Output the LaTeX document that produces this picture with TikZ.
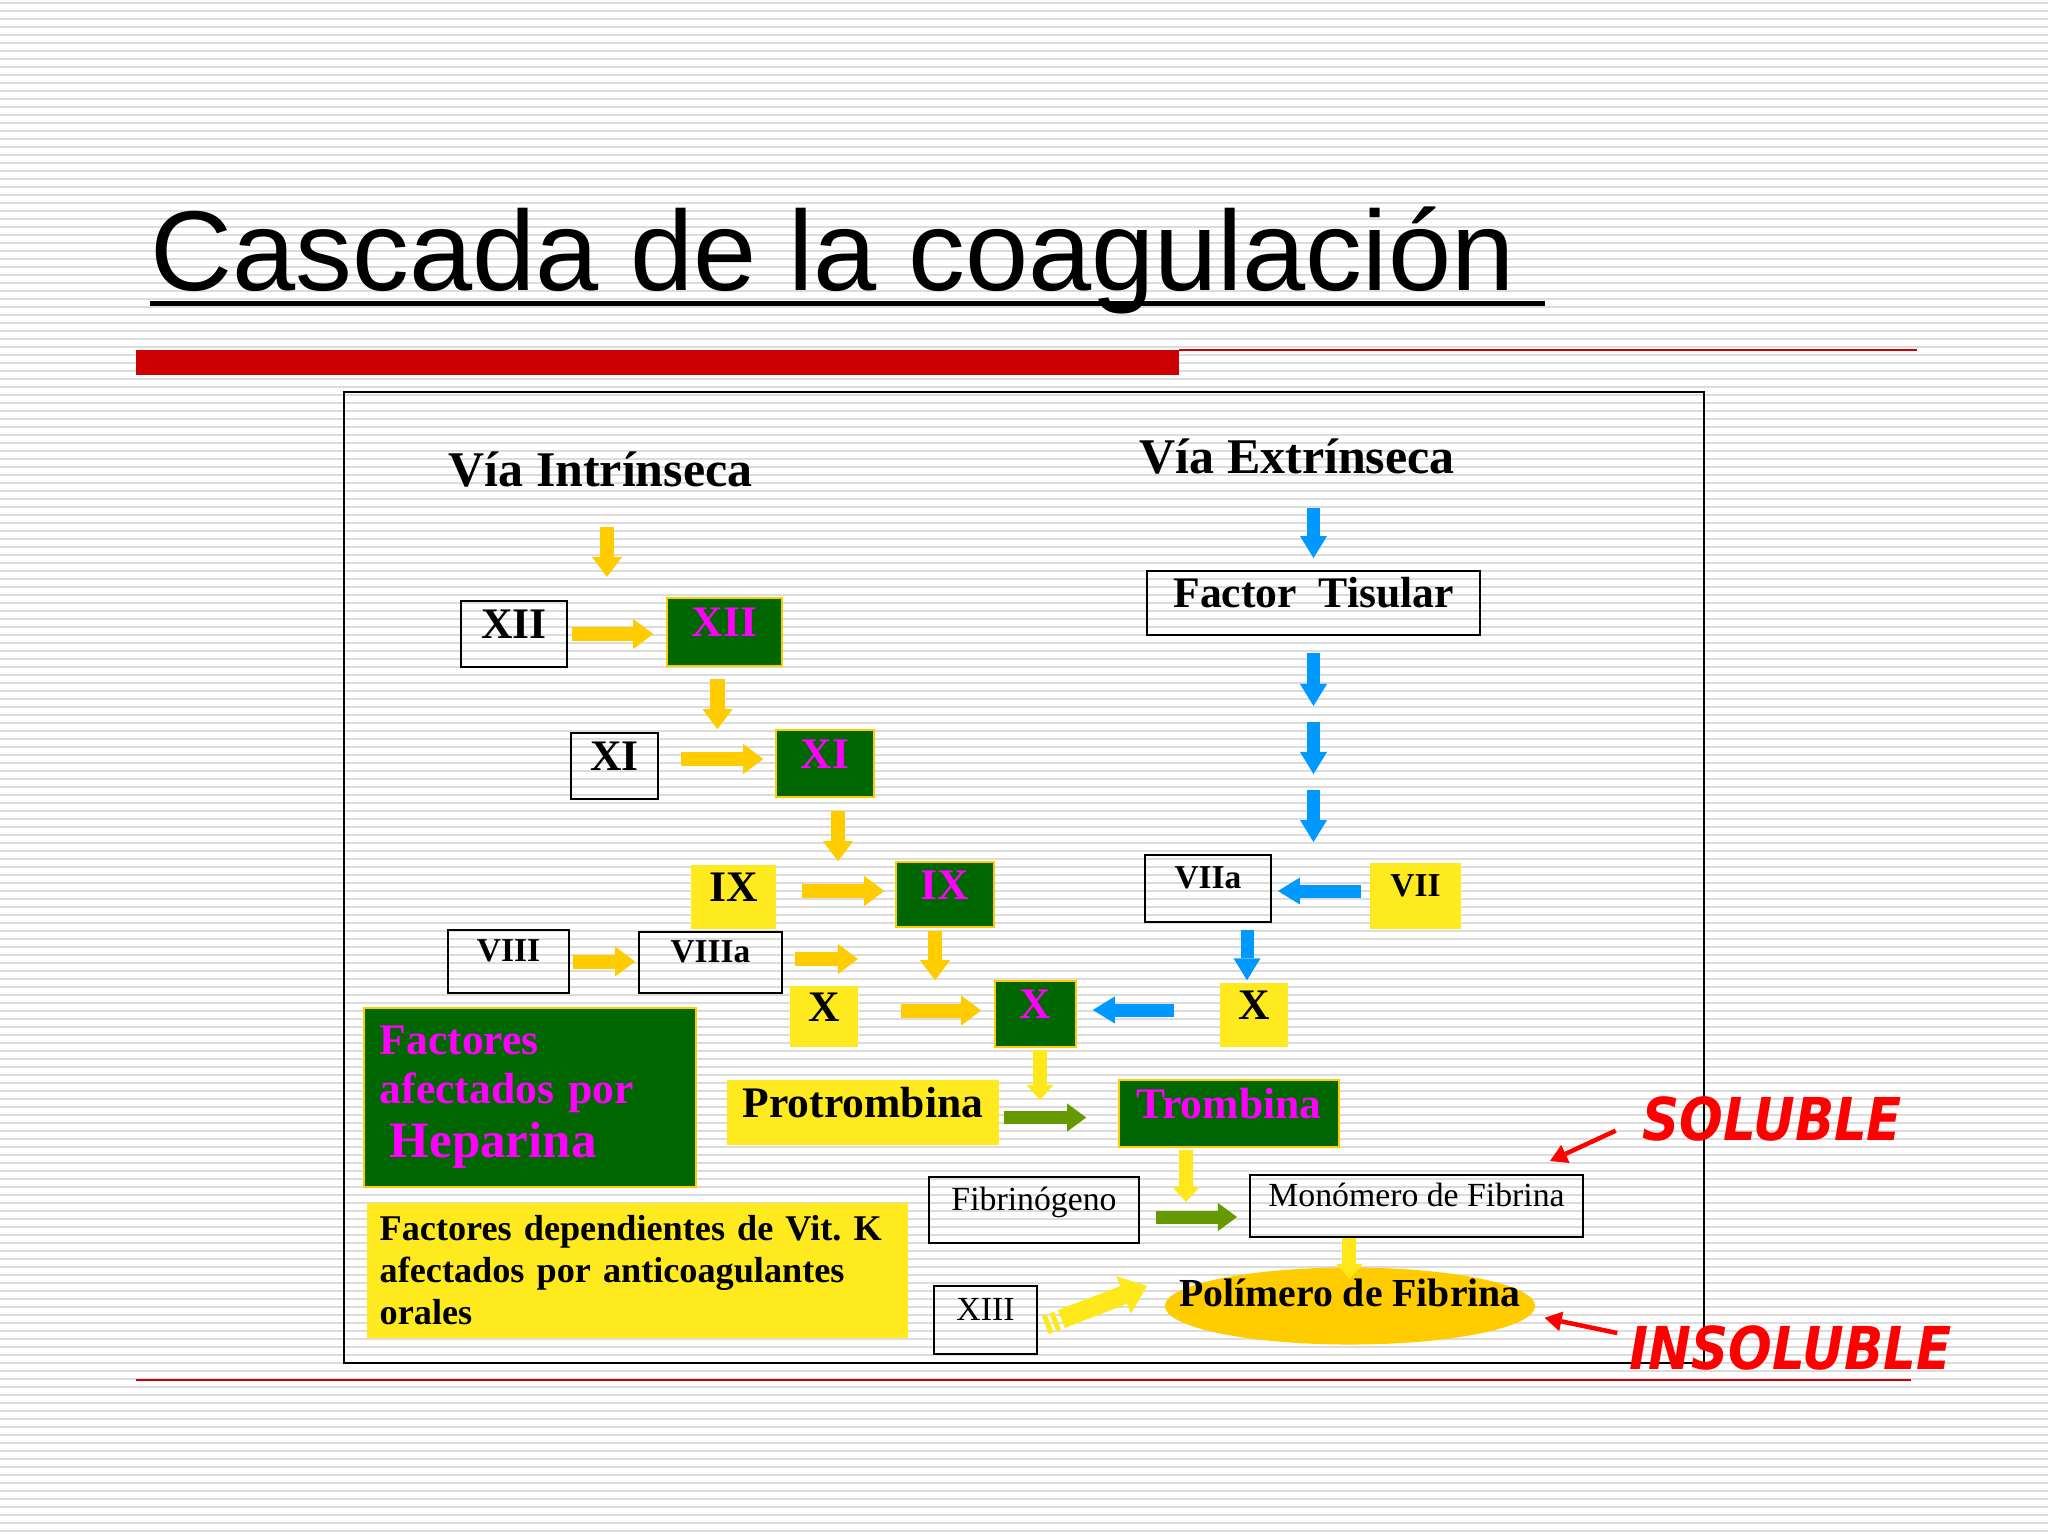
\documentclass[tikz,border=0pt]{standalone}
\usepackage{fontspec}
\setmainfont{Liberation Serif}
\newfontfamily\titlefont{Liberation Sans}
\newfontfamily\tagfont{DejaVu Sans}
\usepackage{tikz}
\usetikzlibrary{arrows.meta,shapes.geometric,calc}

\definecolor{darkgreen}{RGB}{0,102,0}
\definecolor{factormagenta}{RGB}{255,0,255}
\definecolor{boxyellow}{RGB}{255,234,32}
\definecolor{arrowyellow}{RGB}{255,204,0}
\definecolor{lightyellow}{RGB}{255,232,26}
\definecolor{arrowblue}{RGB}{0,153,255}
\definecolor{arrowgreen}{RGB}{102,153,0}
\definecolor{barred}{RGB}{204,0,0}
\definecolor{tagred}{RGB}{255,0,0}
\definecolor{stripegray}{RGB}{220,220,220}

\begin{document}
\begin{tikzpicture}[
    x=0.01cm, y=-0.01cm,
    stripe/.style={draw=stripegray, line width=0.025cm},
    plain/.style={
        rectangle,
        draw=black,
        line width=0.018cm,
        inner sep=0pt
    },
    yellowbox/.style={
        rectangle,
        fill=boxyellow,
        inner sep=0pt
    },
    greenbox/.style={
        rectangle,
        fill=darkgreen,
        draw=arrowyellow,
        line width=0.015cm,
        text=factormagenta,
        inner sep=0pt
    },
    head/.style={inner sep=0pt, font=\bfseries\fontsize{14.2pt}{17pt}\selectfont},
    big/.style={font=\bfseries\fontsize{12.4pt}{15pt}\selectfont, text height=0.30cm, text depth=0.21cm},
    small/.style={font=\bfseries\fontsize{9.5pt}{11pt}\selectfont, text height=0.24cm, text depth=0.24cm},
    thin/.style={font=\fontsize{9.6pt}{11pt}\selectfont, text height=0.24cm, text depth=0.24cm},
    tag/.style={inner sep=0pt, text=tagred, xscale=0.87,
        font=\tagfont\bfseries\itshape\fontsize{16.8pt}{20pt}\selectfont},
    yarr/.style={draw=arrowyellow, line width=0.14cm,
        -{Triangle[width=0.30cm,length=0.20cm,line width=0pt]}},
    larr/.style={draw=lightyellow, line width=0.14cm,
        -{Triangle[width=0.27cm,length=0.15cm,line width=0pt]}},
    barr/.style={draw=arrowblue, line width=0.13cm,
        -{Triangle[width=0.27cm,length=0.22cm,line width=0pt]}},
    garr/.style={draw=arrowgreen, line width=0.13cm,
        -{Triangle[width=0.28cm,length=0.19cm,line width=0pt]}},
    xarr/.style={draw=lightyellow, line width=0.19cm,
        dash pattern=on 0.05cm off 0.03cm on 0.05cm off 0.04cm on 3cm,
        -{Triangle[width=0.40cm,length=0.25cm,line width=0pt]}},
    rarr/.style={draw=tagred, line width=0.045cm,
        -{Triangle[width=0.20cm,length=0.17cm,line width=0pt]}}
  ]
  \useasboundingbox (0,0) rectangle (2048,1536);
  \fill[white] (0,0) rectangle (2048,1536);
  \foreach \y in {3,11,...,1536}
    \draw[stripe] (0,\y) -- (2048,\y);

  % title and bars
  \node[anchor=base west, inner sep=0pt,
        font=\titlefont\fontsize{32.3pt}{36pt}\selectfont] (title) at (150,290)
        {Cascada de la coagulación};
  \draw[line width=0.05cm] ([yshift=-0.13cm]title.base west) -- ++(1395,0);
  \fill[barred] (136,350) rectangle (1179,375);
  \draw[barred, line width=0.02cm] (1179,350) -- (1917,350);
  \draw[barred, line width=0.015cm] (136,1380) -- (1911,1380);
  \draw[line width=0.02cm] (343.5,392) rectangle (1704,1363);

  % We start by placing the blocks
  \node[head, anchor=base west] (viaint) at (448,486) {Vía Intrínseca};
  \node[head, anchor=base west] (viaext) at (1139,473) {Vía Extrínseca};

  \node[plain, big, minimum width=1.06cm, minimum height=0.66cm] (xiiw) at (514,634) {XII};
  \node[greenbox, big, minimum width=1.15cm, minimum height=0.68cm] (xiig) at (724.5,632) {XII};
  \node[plain, big, minimum width=0.87cm, minimum height=0.66cm] (xiw) at (614.5,766) {XI};
  \node[greenbox, big, minimum width=0.98cm, minimum height=0.67cm] (xig) at (825,763.5) {XI};
  \node[yellowbox, big, minimum width=0.85cm, minimum height=0.64cm] (ixy) at (733.5,897) {IX};
  \node[greenbox, big, minimum width=0.98cm, minimum height=0.65cm] (ixg) at (945,894.5) {IX};
  \node[plain, small, minimum width=1.21cm, minimum height=0.63cm] (viiiw) at (508.5,961.5) {VIII};
  \node[plain, small, minimum width=1.43cm, minimum height=0.61cm] (viiiaw) at (710.5,962.5) {VIIIa};
  \node[yellowbox, big, minimum width=0.68cm, minimum height=0.61cm] (xy) at (824,1016.5) {X};
  \node[greenbox, big, minimum width=0.81cm, minimum height=0.66cm] (xg) at (1035.5,1014) {X};

  \node[plain, big, minimum width=3.33cm, minimum height=0.64cm] (ft) at (1313.5,603) {Factor\ \ Tisular};
  \node[plain, small, minimum width=1.26cm, minimum height=0.67cm] (viia) at (1208,888.5) {VIIa};
  \node[yellowbox, small, minimum width=0.91cm, minimum height=0.66cm] (vii) at (1415.5,896) {VII};
  \node[yellowbox, big, minimum width=0.68cm, minimum height=0.64cm] (x2y) at (1254,1015) {X};

  \node[greenbox, anchor=north west, minimum height=1.79cm, text width=3.0cm,
        inner xsep=0.16cm, align=left, font=\bfseries\fontsize{12.4pt}{13.9pt}\selectfont] (hep) at (363,1007)
        {Factores\\afectados por\\[0.05cm]{\fontsize{14.5pt}{16pt}\selectfont\hspace*{0.1cm}Heparina}};
  \node[yellowbox, anchor=north west, minimum height=1.35cm, text width=5.15cm,
        inner xsep=0.13cm, align=left, font=\bfseries\fontsize{10.3pt}{11.95pt}\selectfont] (vitk) at (366,1202)
        {Factores dependientes de Vit.~K\\afectados por anticoagulantes\\orales};

  \node[yellowbox, big, minimum width=2.72cm, minimum height=0.65cm] (pro) at (863,1112.5) {Protrombina};
  \node[greenbox, big, minimum width=2.20cm, minimum height=0.67cm] (tro) at (1229,1113.5) {Trombina};
  \node[plain, thin, minimum width=2.10cm, minimum height=0.66cm] (fib) at (1034,1210) {Fibrinógeno};
  \node[plain, thin, minimum width=3.33cm, minimum height=0.62cm] (mon) at (1416.5,1206) {Monómero de Fibrina};
  \node[ellipse, fill=arrowyellow, minimum width=3.70cm, minimum height=0.77cm,
        inner xsep=-0.9cm, inner ysep=0pt, text height=0.24cm, text depth=0.24cm,
        font=\bfseries\fontsize{11.3pt}{13pt}\selectfont] (pol) at (1350,1306) {Polímero de Fibrina};
  \node[plain, thin, minimum width=1.03cm, minimum height=0.68cm] (xiii) at (985.5,1320) {XIII};

  \node[tag, anchor=base west] (sol) at (1642,1140) {SOLUBLE};
  \node[tag, anchor=base west] (insol) at (1629,1369) {INSOLUBLE};

  % free ends
  \coordinate (xiigap) at (607,577);
  \coordinate (viiiaend) at (858,959);
  \coordinate (xgend) at (1040,1100);
  \coordinate (troend) at (1186,1202);
  \coordinate (xiiiend) at (1147,1286);
  \coordinate (solend) at (1550,1161);

  % intrinsic path
  \draw[yarr, shorten <=0.40cm] (viaint.south -| xiigap) -- (xiigap);
  \draw[yarr, shorten <=0.04cm, shorten >=0.13cm] (xiiw.east) -- (xiiw.east -| xiig.west);
  \draw[yarr, shorten <=0.12cm] ([xshift=-0.07cm]xiig.south) -- ([xshift=-0.07cm]xiig.south |- xig.north);
  \draw[yarr, shorten <=0.22cm, shorten >=0.12cm] ([yshift=0.07cm]xiw.east) -- ([yshift=0.07cm]xiw.east -| xig.west);
  \draw[yarr, shorten <=0.13cm] ([xshift=0.13cm]xig.south) -- ([xshift=0.13cm]xig.south |- ixg.north);
  \draw[yarr, shorten <=0.25cm, shorten >=0.11cm] ([yshift=0.06cm]ixy.east) -- ([yshift=0.06cm]ixy.east -| ixg.west);
  \draw[yarr, shorten <=0.03cm] ([xshift=-0.10cm]ixg.south) -- ([xshift=-0.10cm]ixg.south |- xg.north);
  \draw[yarr, shorten <=0.03cm, shorten >=0.03cm] (viiiw.east) -- (viiiw.east -| viiiaw.west);
  \draw[yarr, shorten <=0.12cm] (viiiaw.east |- viiiaend) -- (viiiaend);
  \draw[yarr, shorten <=0.42cm, shorten >=0.13cm] ([yshift=0.06cm]xy.east) -- ([yshift=0.06cm]xy.east -| xg.west);

  % extrinsic path
  \draw[barr, shorten <=0.34cm, shorten >=0.12cm] (viaext.south -| ft.north) -- (ft.north);
  \foreach \s/\e in {0.17/0.70, 0.86/1.38, 1.54/2.06}
    \draw[barr] ([yshift=-\s cm]ft.south) -- ([yshift=-\e cm]ft.south);
  \draw[barr, shorten <=0.08cm, shorten >=0.06cm] ([yshift=0.05cm]vii.west) -- ([yshift=0.05cm]vii.west -| viia.east);
  \draw[barr, shorten <=0.07cm, shorten >=0.02cm] ([xshift=-0.07cm]x2y.north |- viia.south) -- ([xshift=-0.07cm]x2y.north);
  \draw[barr, shorten <=0.45cm, shorten >=0.16cm] ([yshift=0.05cm]x2y.west) -- ([yshift=0.05cm]x2y.west -| xg.east);

  % common path
  \draw[larr, shorten <=0.02cm] (xg.south -| xgend) -- (xgend);
  \draw[garr, shorten <=0.04cm, shorten >=0.32cm] ([yshift=-0.05cm]pro.east) -- ([yshift=-0.05cm]pro.east -| tro.west);
  \draw[larr, shorten <=0.02cm] (tro.south -| troend) -- (troend);
  \draw[garr, shorten <=0.16cm, shorten >=0.12cm] ([yshift=-0.07cm]fib.east) -- ([yshift=-0.07cm]fib.east -| mon.west);
  \draw[larr, shorten >=-0.12cm] ([xshift=-0.67cm]mon.south) -- ([xshift=-0.67cm]mon.south |- pol.north);
  \draw[xarr, shorten <=0.08cm] ([yshift=-0.08cm]xiii.east) -- (xiiiend);

  \draw[rarr, shorten <=0.29cm] (sol.west) -- (solend);
  \draw[rarr, shorten <=0.12cm, shorten >=0.09cm] ([yshift=0.12cm]insol.west) -- ([yshift=-0.1cm]pol.east);

\end{tikzpicture}
\end{document}
